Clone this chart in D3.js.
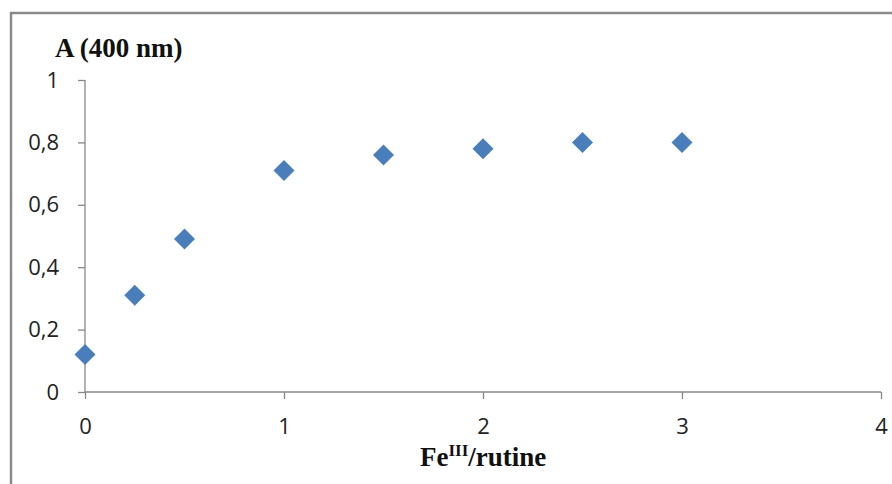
<!DOCTYPE html>
<html><head><meta charset="utf-8">
<script src="https://cdn.jsdelivr.net/npm/d3@7"></script>
<style>body{margin:0;background:#fff}svg{display:block}</style>
</head><body>
<svg id="chart" width="892" height="484"></svg>
<script>
const ratios = [0, 0.25, 0.5, 1, 1.5, 2, 2.5, 3];
const absorbance = [0.12, 0.31, 0.49, 0.71, 0.76, 0.78, 0.80, 0.80];
const xTicks = [0, 1, 2, 3, 4];
const yTicks = [0, 0.2, 0.4, 0.6, 0.8, 1];
const yTitle = "A (400 nm)";
const xTitleMain = "Fe", xTitleSup = "III", xTitleRest = "/rutine";

const svg = d3.select("#chart");
// outer frame
svg.append("path").attr("d", "M11,484 V13 H892").attr("fill", "none")
  .attr("stroke", "#8a8a8a").attr("stroke-width", 2.5);

const x = d3.scaleLinear().domain([0, 4]).range([85, 881]);
const y = d3.scaleLinear().domain([0, 1]).range([392, 80]);
const axisColor = "#888";
const fmt = d => d3.format(".1~f")(d).replace(".", ",");

const gx = svg.append("g").attr("transform", "translate(0,392)")
  .call(d3.axisBottom(x).tickValues(xTicks).tickSize(7).tickPadding(19).tickFormat(d3.format("d")));
const gy = svg.append("g").attr("transform", "translate(85,0)")
  .call(d3.axisLeft(y).tickValues(yTicks).tickSize(7).tickPadding(19).tickFormat(fmt));
[gx, gy].forEach(g => {
  g.select(".domain").attr("stroke", axisColor).attr("stroke-width", 1.3);
  g.selectAll(".tick line").attr("stroke", axisColor).attr("stroke-width", 1.3);
  g.selectAll("text").attr("font-family", "'Open Sans', sans-serif").attr("font-size", 22).attr("fill", "#222");
});
gy.select(".domain").attr("d", "M0,392V80");
gx.select(".domain").attr("d", "M85,0H881");

const diamond = (cx, cy, r) => `M${cx},${cy - r}L${cx + r},${cy}L${cx},${cy + r}L${cx - r},${cy}Z`;
svg.append("g").selectAll("path").data(ratios.map((r, i) => [r, absorbance[i]])).join("path")
  .attr("d", d => diamond(x(d[0]), y(d[1]), 10.5))
  .attr("fill", "#4a7ebb");

svg.append("text").attr("x", 55).attr("y", 57)
  .attr("font-family", "'Liberation Serif', serif").attr("font-weight", "bold").attr("font-size", 27)
  .attr("fill", "#111").text(yTitle);

const xt = svg.append("text").attr("x", 420).attr("y", 466)
  .attr("font-family", "'Liberation Serif', serif").attr("font-weight", "bold").attr("font-size", 27).attr("fill", "#111");
xt.append("tspan").text(xTitleMain);
xt.append("tspan").attr("font-size", 17).attr("dy", -10).text(xTitleSup);
xt.append("tspan").attr("dy", 10).text(xTitleRest);
</script>
</body></html>
